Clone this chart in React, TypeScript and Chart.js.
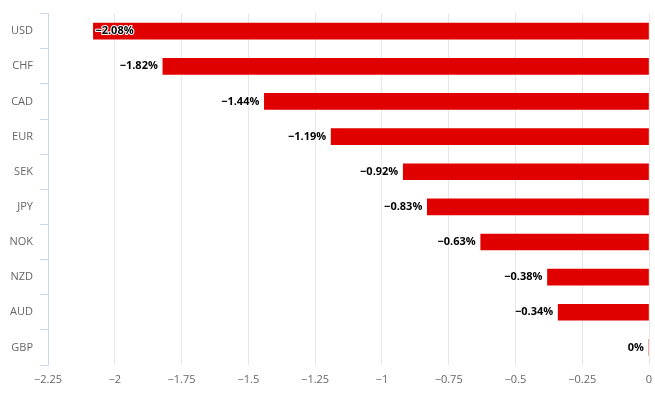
import React, { useEffect, useRef } from "react";
import { Chart, registerables } from "chart.js";

Chart.register(...registerables);

const categories = ["USD", "CHF", "CAD", "EUR", "SEK", "JPY", "NOK", "NZD", "AUD", "GBP"];
const values = [-2.08, -1.82, -1.44, -1.19, -0.92, -0.83, -0.63, -0.38, -0.34, 0];
const xMin = -2.25;
const xMax = 0;
const xStep = 0.25;

const FONT = "'Open Sans', 'DejaVu Sans', sans-serif";

const fmt = (v: number) => (v < 0 ? "\u2212" + String(Math.abs(v)) : String(v));

const labelPlugin = {
  id: "barLabels",
  afterDatasetsDraw(chart: any) {
    const ctx = chart.ctx;
    const meta = chart.getDatasetMeta(0);
    const area = chart.chartArea;
    ctx.save();
    ctx.font = `bold 11px ${FONT}`;
    ctx.textBaseline = "middle";
    ctx.lineJoin = "round";
    meta.data.forEach((bar: any, i: number) => {
      const v = values[i];
      const text = fmt(v) + "%";
      const w = ctx.measureText(text).width;
      let x = bar.x - 5;
      let align: CanvasTextAlign = "right";
      if (x - w - 8 < area.left) {
        x = bar.x + 2;
        align = "left";
      }
      ctx.textAlign = align;
      ctx.strokeStyle = "#ffffff";
      ctx.lineWidth = 2;
      ctx.strokeText(text, x, bar.y);
      ctx.fillStyle = "#000000";
      ctx.fillText(text, x, bar.y);
    });
    ctx.restore();
  },
};

export default function App() {
  const ref = useRef<HTMLCanvasElement>(null);
  useEffect(() => {
    if (!ref.current) return;
    const chart = new Chart(ref.current, {
      type: "bar",
      data: {
        labels: categories,
        datasets: [
          {
            data: values,
            backgroundColor: "#e00000",
            borderWidth: 0,
            barThickness: 16,
          },
        ],
      },
      options: {
        indexAxis: "y",
        responsive: false,
        animation: false,
        layout: { padding: { top: 11, right: 6, bottom: 0, left: 0 } },
        plugins: { legend: { display: false }, tooltip: { enabled: false } },
        scales: {
          x: {
            min: xMin,
            max: xMax,
            ticks: {
              stepSize: xStep,
              color: "#666666",
              font: { family: FONT, size: 11 },
              padding: 8,
              callback: (v: any) => fmt(Number(v)),
            },
            grid: { color: "#e6e6e6", drawTicks: false },
            border: { display: false },
            afterFit: (s: any) => {
              s.height = 30;
              s.paddingRight = 0;
            },
          },
          y: {
            ticks: {
              color: "#666666",
              font: { family: FONT, size: 11 },
              padding: 7,
            },
            grid: {
              drawOnChartArea: false,
              drawTicks: true,
              tickLength: 8,
              color: "#ccd6eb",
              offset: true,
            },
            border: { display: true, color: "#ccd6eb" },
            afterFit: (s: any) => {
              s.width = 48;
            },
          },
        },
      },
      plugins: [labelPlugin],
    } as any);
    return () => chart.destroy();
  }, []);
  return (
    <div style={{ position: "fixed", left: 0, top: 0, width: 655, height: 395, background: "#fff" }}>
      <canvas ref={ref} width={655} height={395} style={{ width: 655, height: 395, display: "block" }} />
    </div>
  );
}
